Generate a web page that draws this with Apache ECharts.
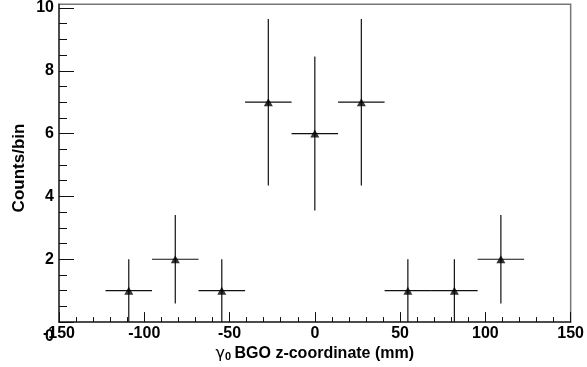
<!DOCTYPE html>
<html>
<head>
<meta charset="utf-8">
<script src="https://cdn.jsdelivr.net/npm/echarts@6/dist/echarts.min.js"></script>
<style>html,body{margin:0;padding:0;background:#fff}#c{width:587px;height:367px}</style>
</head>
<body>
<div id="c"></div>
<script>
// Data (11 bins from -150 to 150 mm; empty bins omitted)
const binCenters = [-109.09, -81.82, -54.55, -27.27, 0, 27.27, 54.55, 81.82, 109.09];
const counts = [1, 2, 1, 7, 6, 7, 1, 1, 2];
const countErrors = [1, 1.41, 1, 2.65, 2.45, 2.65, 1, 1, 1.41];
const binHalfWidths = [13.64, 13.64, 13.64, 13.64, 13.64, 13.64, 13.64, 13.64, 13.64];
const xTicks = [-150, -100, -50, 0, 50, 100, 150];
const yTicks = [0, 2, 4, 6, 8, 10];

const pts = binCenters.map((x, i) => [x, counts[i], binHalfWidths[i], countErrors[i]]);
const FONT = '"Liberation Sans", Arial, Helvetica, sans-serif';

const chart = echarts.init(document.getElementById('c'), null, {renderer: 'canvas'});
chart.setOption({
  animation: false,
  backgroundColor: '#fff',
  grid: {left: 59, right: 13, top: 4, bottom: 38, show: true, borderColor: '#777', borderWidth: 1.5, backgroundColor: 'transparent'},
  graphic: [{
    type: 'text', x: 19, y: 168, rotation: Math.PI / 2,
    style: {text: 'Counts/bin', fontFamily: FONT, fontWeight: 'bold', fontSize: 17, fill: '#000', align: 'center', verticalAlign: 'middle'}
  }],
  xAxis: {
    type: 'value', min: -150, max: 150, interval: 50,
    axisLine: {show: true, onZero: false, lineStyle: {color: '#333', width: 1.5}},
    axisTick: {show: true, inside: true, length: 10, lineStyle: {color: '#111'}},
    minorTick: {show: true, splitNumber: 5, length: 5, lineStyle: {color: '#111'}},
    splitLine: {show: false},
    axisLabel: {
      margin: 3, color: '#000', fontFamily: FONT, fontWeight: 'bold', fontSize: 16,
      formatter: v => (xTicks.indexOf(v) >= 0 ? String(v) : '')
    },
    name: '{g|γ}{s|0} {t|BGO z-coordinate (mm)}',
    nameLocation: 'middle', nameGap: 15,
    nameTextStyle: {
      verticalAlign: 'top',
      rich: {
        g: {fontFamily: 'DejaVu Sans, sans-serif', fontSize: 16, color: '#000', verticalAlign: 'bottom'},
        s: {fontFamily: FONT, fontSize: 11, fontWeight: 'bold', color: '#000', padding: [8, 0, 0, 0], verticalAlign: 'bottom'},
        t: {fontFamily: FONT, fontSize: 16, fontWeight: 'bold', color: '#000', verticalAlign: 'bottom'}
      }
    }
  },
  yAxis: {
    type: 'value', min: 0, max: 10.12, interval: 2,
    axisLine: {show: true, onZero: false, lineStyle: {color: '#333', width: 1.5}},
    axisTick: {show: true, inside: true, length: 15, lineStyle: {color: '#111'}, customValues: yTicks},
    minorTick: {show: true, splitNumber: 4, length: 8, lineStyle: {color: '#111'}},
    splitLine: {show: false},
    axisLabel: {
      margin: 5, color: '#000', fontFamily: FONT, fontWeight: 'bold', fontSize: 16,
      customValues: yTicks,
      formatter: v => (v === 0 ? '{z|0}' : String(v)),
      rich: {z: {fontFamily: FONT, fontWeight: 'bold', fontSize: 16, color: '#000', padding: [28, 0, 0, 0]}}
    }
  },
  series: [
    {
      type: 'custom',
      data: pts,
      z: 2,
      renderItem: function (params, api) {
        const x = api.value(0), y = api.value(1), ex = api.value(2), ey = api.value(3);
        const l = api.coord([x - ex, y]), r = api.coord([x + ex, y]);
        const t = api.coord([x, y + ey]), b = api.coord([x, Math.max(0, y - ey)]);
        const style = {stroke: '#111', lineWidth: 1.2};
        return {
          type: 'group',
          children: [
            {type: 'line', shape: {x1: l[0], y1: l[1], x2: r[0], y2: r[1]}, style: style},
            {type: 'line', shape: {x1: t[0], y1: t[1], x2: b[0], y2: b[1]}, style: style}
          ]
        };
      }
    },
    {
      type: 'scatter',
      data: pts.map(p => [p[0], p[1]]),
      symbol: 'triangle', symbolSize: [9, 8],
      itemStyle: {color: '#000'},
      z: 3
    }
  ]
});
</script>
</body>
</html>
